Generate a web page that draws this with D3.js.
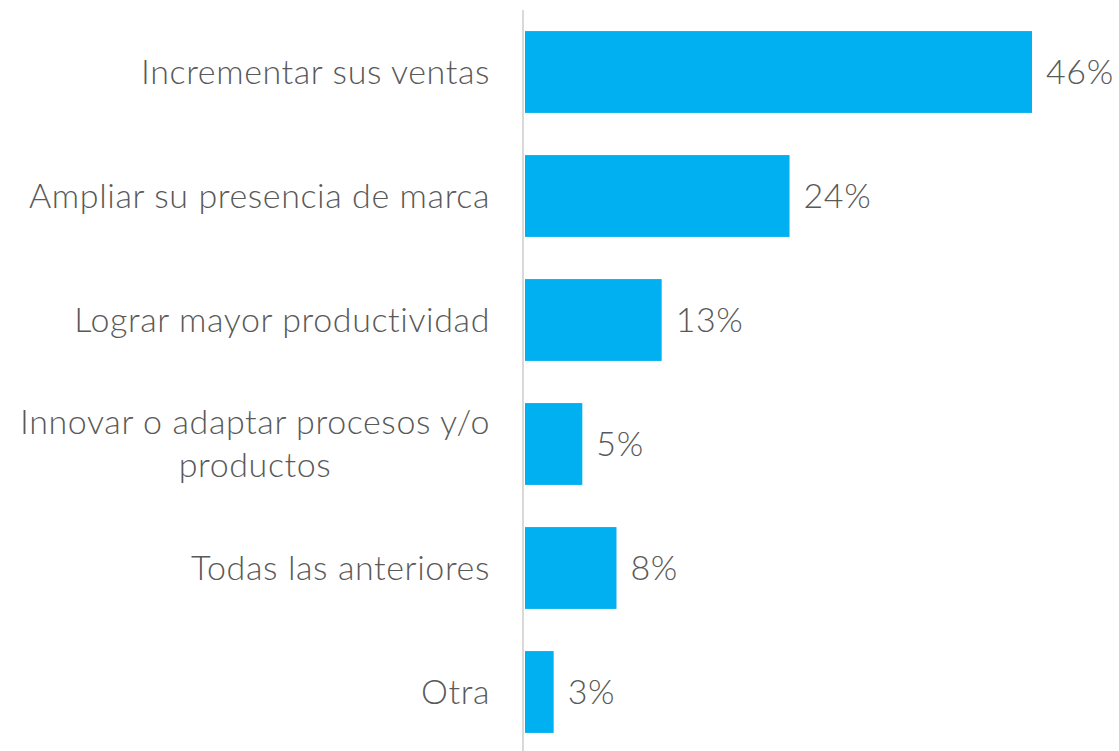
<!DOCTYPE html>
<html>
<head>
<meta charset="utf-8">
<script src="https://cdn.jsdelivr.net/npm/d3@7"></script>
<style>
  body { margin: 0; background: #fff; }
  svg text { font-family: "Lato", "Open Sans", sans-serif; font-weight: 300; fill: #595959; letter-spacing: 0.6px; }
</style>
</head>
<body>
<svg width="1119" height="751"></svg>
<script>
const categories = [
    ["Incrementar sus ventas"],
    ["Ampliar su presencia de marca"],
    ["Lograr mayor productividad"],
    ["Innovar o adaptar procesos y/o", "productos"],
    ["Todas las anteriores"],
    ["Otra"]
];
const values = [46.0, 24.0, 12.4, 5.2, 8.3, 2.6];
const valueLabels = ["46%", "24%", "13%", "5%", "8%", "3%"];

const svg = d3.select("svg");
const x0 = 525;

const x = d3.scaleLinear().domain([0, 46]).range([x0, 1032]);
const y = d3.scaleBand().domain(d3.range(categories.length)).range([10, 754]).paddingInner(0.34).paddingOuter(0.17);

svg.selectAll("rect.bar").data(values)
    .enter().append("rect")
    .attr("class", "bar")
    .attr("x", x(0))
    .attr("y", (d, i) => y(i))
    .attr("width", d => x(d) - x(0))
    .attr("height", y.bandwidth())
    .attr("fill", "#00b0f0");

svg.append("line")
    .attr("x1", x0 - 2).attr("x2", x0 - 2)
    .attr("y1", 10).attr("y2", 751)
    .attr("stroke", "#d9d9d9").attr("stroke-width", 2);

// value labels
svg.selectAll("text.val").data(values)
    .enter().append("text")
    .attr("class", "val")
    .attr("x", d => x(d) + 14)
    .attr("y", (d, i) => y(i) + y.bandwidth() / 2)
    .attr("dy", "0.35em")
    .style("font-size", "34px")
    .text((d, i) => valueLabels[i]);

// category labels
const lineH = 43;
categories.forEach(function(lines, i) {
    const cy = y(i) + y.bandwidth() / 2;
    const g = svg.append("text")
        .style("font-size", "34px")
        .attr("text-anchor", lines.length > 1 ? "middle" : "end");
    lines.forEach(function(l, j) {
        g.append("tspan")
            .attr("x", 490)
            .attr("y", cy + (j - (lines.length - 1) / 2) * lineH)
            .attr("dy", "0.35em")
            .text(l);
    });
    if (lines.length > 1) {
        const w = g.node().getBBox().width;
        g.selectAll("tspan").attr("x", 490 - w / 2);
    }
});
</script>
</body>
</html>
